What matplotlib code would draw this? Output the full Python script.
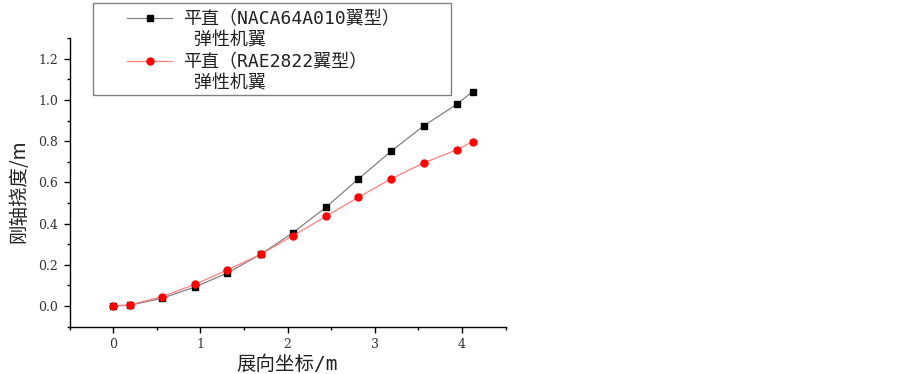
import matplotlib
matplotlib.use("Agg")
import matplotlib.pyplot as plt
from matplotlib.ticker import MultipleLocator
from matplotlib.patches import Rectangle
from matplotlib.lines import Line2D

plt.rcParams['font.family'] = ['Noto Sans CJK SC', 'DejaVu Sans']

# 数据
span = [0, 0.19, 0.56, 0.94, 1.31, 1.69, 2.06, 2.44, 2.81, 3.19, 3.56, 3.94, 4.12]
naca = [0, 0.003, 0.037, 0.092, 0.16, 0.25, 0.355, 0.479, 0.616, 0.752, 0.874, 0.979, 1.04]
rae = [0, 0.005, 0.045, 0.105, 0.175, 0.25, 0.34, 0.435, 0.527, 0.618, 0.694, 0.758, 0.798]

label_naca = ['平直（NACA64A010翼型）', ' 弹性机翼']
label_rae = ['平直（RAE2822翼型）', ' 弹性机翼']
xlabel = '展向坐标/m'
ylabel = '刚轴挠度/m'

fig = plt.figure(figsize=(9.03, 3.74), dpi=100)
ax = fig.add_axes([0.077, 0.127, 0.483, 0.771])

l1, = ax.plot(span, naca, color='#808080', lw=0.9, marker='s', ms=5,
              mfc='black', mec='black')
l2, = ax.plot(span, rae, color='#ff8080', lw=0.9, marker='o', ms=5,
              mfc='red', mec='red')

ax.set_xlim(-0.5, 4.5)
ax.set_ylim(-0.1, 1.3)
ax.xaxis.set_major_locator(MultipleLocator(1))
ax.xaxis.set_minor_locator(MultipleLocator(0.5))
ax.yaxis.set_major_locator(MultipleLocator(0.2))
ax.yaxis.set_minor_locator(MultipleLocator(0.1))
ax.yaxis.set_major_formatter(plt.FormatStrFormatter('%.1f'))

for s in ['top', 'right']:
    ax.spines[s].set_visible(False)
for s in ['left', 'bottom']:
    ax.spines[s].set_linewidth(1.0)

ax.tick_params(which='major', direction='out', length=4.3, width=1,
               labelsize=9, colors='black', pad=4)
ax.tick_params(which='minor', direction='out', length=2.3, width=1)
for t in ax.get_xticklabels() + ax.get_yticklabels():
    t.set_family('DejaVu Serif')
    t.set_color('#333333')

ax.set_xlabel(xlabel, fontsize=14, family=['DejaVu Sans Mono', 'Noto Sans CJK SC'],
              color='#222222')
ax.xaxis.set_label_coords(0.5, -0.133)
ax.xaxis.label.set_va('center')
ax.set_ylabel(ylabel, fontsize=14, family=['Noto Sans CJK SC'], color='#222222')
ax.yaxis.set_label_coords(-0.116, 0.47)
ax.yaxis.label.set_va('center')

# 图例（无边框，外框单独画）
blank = Line2D([], [], color='none')
leg = ax.legend([l1, blank, l2, blank], label_naca + label_rae,
                loc='upper left', bbox_to_anchor=(127 / 903, 1 - 10 / 374),
                bbox_transform=fig.transFigure, frameon=False,
                prop={'family': ['DejaVu Sans Mono', 'Noto Sans CJK SC'], 'size': 13},
                handlelength=2.5, handletextpad=0.6, borderpad=0,
                borderaxespad=0, labelspacing=0.2)
for t in leg.get_texts():
    t.set_color('#222222')
fig.patches.append(Rectangle((93 / 903, 1 - 95 / 374), (451 - 93) / 903, 92 / 374,
                             transform=fig.transFigure, fill=False,
                             ec='#808080', lw=1.0))

fig.savefig('out.png', dpi=100)
